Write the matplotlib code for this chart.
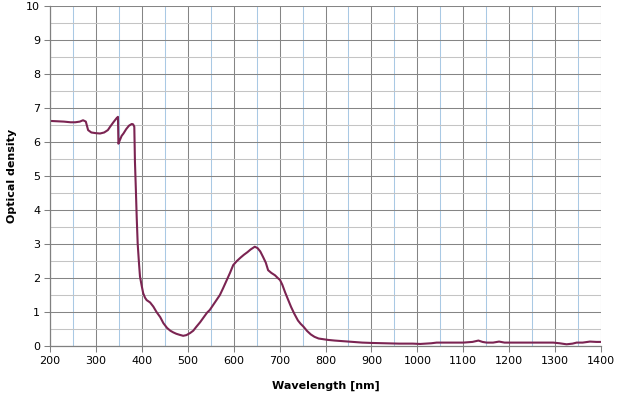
import matplotlib
matplotlib.use("Agg")
import matplotlib.pyplot as plt
from matplotlib.ticker import MultipleLocator

wavelength = [200, 215, 230, 245, 255, 265, 272, 278, 283, 290, 300, 309, 318, 326, 331, 338, 345, 348,
              349, 352, 356, 360, 366, 372, 378, 381, 383.6, 385, 387, 388.8, 391, 394, 396, 400, 403,
              407, 410.5, 418, 425, 432, 440, 447, 455, 462, 468.5, 475, 482, 490, 497, 505, 512,
              519, 527, 535, 542, 548, 556, 563, 570, 577, 585, 592, 599, 607, 615, 622, 630, 637,
              646, 652, 658, 664, 670, 675, 682, 690, 696, 701, 706, 712, 718, 725, 732, 740, 746,
              752, 760, 768, 776, 785, 795, 805, 820, 840, 860, 880, 900, 930, 960, 990, 1006, 1030,
              1042, 1070, 1100, 1120, 1133, 1142, 1151, 1165, 1178, 1190, 1220, 1260, 1296, 1310, 1325,
              1338, 1347, 1360, 1376, 1390, 1400]
optical_density = [6.62, 6.61, 6.60, 6.58, 6.58, 6.60, 6.64, 6.60, 6.35, 6.28, 6.26, 6.25, 6.28, 6.35,
                   6.45, 6.58, 6.70, 6.74, 5.95, 6.05, 6.18, 6.25, 6.38, 6.48, 6.53, 6.52, 6.45, 5.42,
                   4.6, 3.8, 3.0, 2.4, 2.04, 1.75, 1.55, 1.42, 1.35, 1.28, 1.16, 1.0, 0.85, 0.67,
                   0.53, 0.45, 0.40, 0.36, 0.33, 0.30, 0.32, 0.38, 0.45, 0.57, 0.70, 0.85, 0.98, 1.06,
                   1.22, 1.36, 1.50, 1.70, 1.94, 2.15, 2.38, 2.50, 2.60, 2.68, 2.76, 2.84, 2.92, 2.88,
                   2.78, 2.62, 2.45, 2.23, 2.15, 2.08, 2.00, 1.94, 1.80, 1.58, 1.38, 1.15, 0.95, 0.75,
                   0.65, 0.57, 0.44, 0.34, 0.27, 0.22, 0.20, 0.18, 0.16, 0.14, 0.12, 0.10, 0.09, 0.08,
                   0.07, 0.07, 0.06, 0.08, 0.10, 0.10, 0.10, 0.12, 0.16, 0.12, 0.10, 0.10, 0.13, 0.10,
                   0.10, 0.10, 0.10, 0.08, 0.05, 0.07, 0.10, 0.10, 0.13, 0.12, 0.12]

x_ticks = list(range(200, 1401, 100))
y_ticks = list(range(0, 11))

fig = plt.figure(figsize=(6.24, 3.98), dpi=100)
ax = fig.add_axes([50/624, 52/398, 551/624, 340/398])

ax.set_xlim(200, 1400)
ax.set_ylim(0, 10)
ax.set_xticks(x_ticks)
ax.set_yticks(y_ticks)
ax.xaxis.set_minor_locator(MultipleLocator(50))
ax.yaxis.set_minor_locator(MultipleLocator(0.5))

ax.grid(which='major', axis='both', color='#858585', linewidth=0.75)
ax.grid(which='minor', axis='x', color='#A9C9E4', linewidth=0.75)
ax.grid(which='minor', axis='y', color='#C4C4C4', linewidth=0.75)
ax.set_axisbelow(True)

ax.plot(wavelength, optical_density, color='#7B2452', linewidth=1.5, solid_joinstyle='round')

for s in ['top', 'right']:
    ax.spines[s].set_visible(False)
for s in ['left', 'bottom']:
    ax.spines[s].set_color('#808080')
    ax.spines[s].set_linewidth(0.9)

ax.tick_params(which='major', direction='out', length=4, width=0.75, color='#808080',
               labelsize=8, pad=3)
ax.tick_params(which='minor', length=0)

ax.set_xlabel('Wavelength [nm]', fontsize=8, fontweight='bold', labelpad=11)
ax.set_ylabel('Optical density', fontsize=8, fontweight='bold', labelpad=7)

fig.savefig('out.png', dpi=100)
